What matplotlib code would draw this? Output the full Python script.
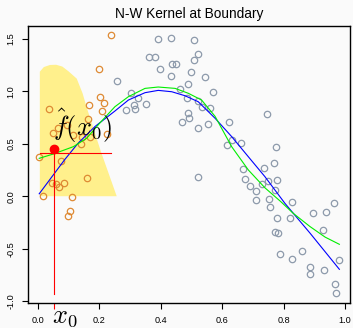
import numpy as np
import matplotlib
matplotlib.use('Agg')
import matplotlib.pyplot as plt

# Plot constants
BG = '#fafafa'
ORANGE = '#de8a34'
GREY = '#8d9aab'
YELLOW = '#fff08c'
TICK_SIZE = 6.6
TITLE_SIZE = 9.8

plt.rcParams['font.family'] = ['Liberation Sans', 'DejaVu Sans']
plt.rcParams['mathtext.fontset'] = 'cm'

# target point
x0 = 0.054
fhat_x0 = 0.45
window_level = 0.414
window_lo, window_hi = 0.006, 0.239
vline_bottom = -0.93

# points inside the kernel window
in_x = [0.239, 0.198, 0.204, 0.216, 0.209, 0.166, 0.036, 0.164, 0.094, 0.067,
        0.049, 0.116, 0.143, 0.170, 0.225, 0.142, 0.005, 0.075, 0.047, 0.058,
        0.086, 0.069, 0.161, 0.017, 0.113, 0.104, 0.099]
in_y = [1.532, 1.208, 0.942, 0.885, 0.811, 0.869, 0.830, 0.735, 0.678, 0.647,
        0.599, 0.583, 0.567, 0.561, 0.590, 0.494, 0.370, 0.335, 0.123, 0.120,
        0.123, 0.085, 0.170, 0.000, -0.010, -0.138, -0.189]

# points outside the window
out_x = [0.259, 0.302, 0.326, 0.351, 0.312, 0.315, 0.287, 0.392, 0.434, 0.362,
         0.382, 0.398, 0.438, 0.449, 0.434, 0.463, 0.469, 0.509, 0.520, 0.508,
         0.497, 0.545, 0.490, 0.570, 0.485, 0.522, 0.535, 0.561, 0.490, 0.493,
         0.520, 0.553, 0.623, 0.745, 0.615, 0.631, 0.660, 0.775, 0.768, 0.737,
         0.669, 0.520, 0.675, 0.690, 0.709, 0.728, 0.748, 0.777, 0.773, 0.709,
         0.751, 0.754, 0.826, 0.778, 0.820, 0.896, 0.937, 0.964, 0.927, 0.772,
         0.780, 0.789, 0.828, 0.861, 0.886, 0.887, 0.930, 0.981, 0.966, 0.970]
out_y = [1.094, 0.980, 0.938, 0.875, 0.869, 0.833, 0.818, 1.494, 1.504, 1.323,
         1.329, 1.214, 1.256, 1.256, 1.142, 1.022, 0.704, 1.485, 1.354, 1.294,
         1.180, 1.138, 1.066, 0.989, 0.932, 0.910, 0.852, 0.837, 0.790, 0.742,
         0.647, 0.685, 0.704, 0.786, 0.485, 0.535, 0.504, 0.466, 0.313, 0.268,
         0.261, 0.180, 0.161, 0.094, 0.052, 0.116, 0.145, 0.150, 0.055, -0.040,
         -0.022, -0.105, -0.052, -0.205, -0.205, -0.157, -0.148, -0.062, -0.319, -0.344,
         -0.353, -0.548, -0.595, -0.525, -0.671, -0.744, -0.706, -0.605, -0.833, -0.919]

# true function (blue)
true_x = [0.005, 0.087, 0.130, 0.186, 0.251, 0.295, 0.349, 0.392, 0.436, 0.479,
          0.522, 0.577, 0.631, 0.685, 0.739, 0.804, 0.886, 0.981]
true_y = [0.023, 0.345, 0.500, 0.663, 0.811, 0.916, 0.986, 1.008, 0.995, 0.957,
          0.900, 0.742, 0.567, 0.376, 0.186, -0.068, -0.353, -0.696]

# N-W fit (green)
fit_x = [0.005, 0.051, 0.116, 0.159, 0.203, 0.251, 0.295, 0.349, 0.392, 0.447,
         0.490, 0.533, 0.577, 0.631, 0.685, 0.739, 0.790, 0.831, 0.886, 0.935, 0.981]
fit_y = [0.361, 0.402, 0.472, 0.551, 0.700, 0.852, 0.948, 1.027, 1.040, 1.027,
         0.980, 0.916, 0.760, 0.471, 0.250, 0.080, -0.050, -0.163, -0.290, -0.390, -0.458]

# kernel weights shape
kern_x = [0.007, 0.007, 0.020, 0.040, 0.060, 0.080, 0.100, 0.127, 0.146, 0.160, 0.205, 0.257]
kern_y = [0.0, 1.186, 1.230, 1.250, 1.252, 1.235, 1.190, 1.120, 0.980, 0.840, 0.430, 0.0]

fig = plt.figure(figsize=(3.53, 3.28), dpi=100, facecolor=BG)
ax = fig.add_axes([0.0793, 0.0762, 0.9122, 0.8445], facecolor=BG)

ax.fill(kern_x, kern_y, color=YELLOW, lw=0, zorder=1)

ax.plot(out_x, out_y, 'o', mfc='none', mec=GREY, ms=4.6, mew=0.9, zorder=2)
ax.plot(in_x, in_y, 'o', mfc='none', mec=ORANGE, ms=4.6, mew=0.9, zorder=2)

ax.plot(true_x, true_y, '-', color='blue', lw=0.8, zorder=3)
ax.plot(fit_x, fit_y, '-', color='#00ee00', lw=0.8, zorder=3)

ax.plot([window_lo, window_hi], [window_level, window_level], color='red', lw=0.8, zorder=4)
ax.plot([x0, x0], [vline_bottom, window_level], color='red', lw=0.8, zorder=4)
ax.plot([x0], [fhat_x0], 'o', color='red', ms=6, zorder=5)

ax.text(0.146, 0.675, r'$\hat{f}(x_0)$', fontsize=19, ha='center', va='center', zorder=6)

ax.set_xlim(-0.0315, 1.0156)
ax.set_ylim(-1.017, 1.621)

ax.set_xticks([0.0, 0.2, 0.4, 0.6, 0.8, 1.0])
ax.set_xticklabels(['0.0', '0.2', '0.4', '0.6', '0.8', '1.0'])
ax.set_xticks([x0], minor=True)
ax.set_yticks([-1.0, -0.5, 0.0, 0.5, 1.0, 1.5])
ax.set_yticklabels(['-1.0', '-0.5', '0.0', '0.5', '1.0', '1.5'], rotation=90, va='center')
ax.tick_params(which='major', length=4.5, width=0.8, labelsize=TICK_SIZE, pad=4.5)
ax.tick_params(axis='x', which='minor', length=4.0, width=0.8, color='red')

ax.annotate(r'$x_0$', xy=(x0, 0), xycoords=('data', 'axes fraction'),
            xytext=(7.7, -13.8), textcoords='offset points',
            fontsize=19, ha='center', va='baseline', annotation_clip=False)

for s in ax.spines.values():
    s.set_linewidth(1.0)

ax.set_title('N-W Kernel at Boundary', fontsize=TITLE_SIZE, pad=6)

plt.savefig('out.png', dpi=100, facecolor=BG)
